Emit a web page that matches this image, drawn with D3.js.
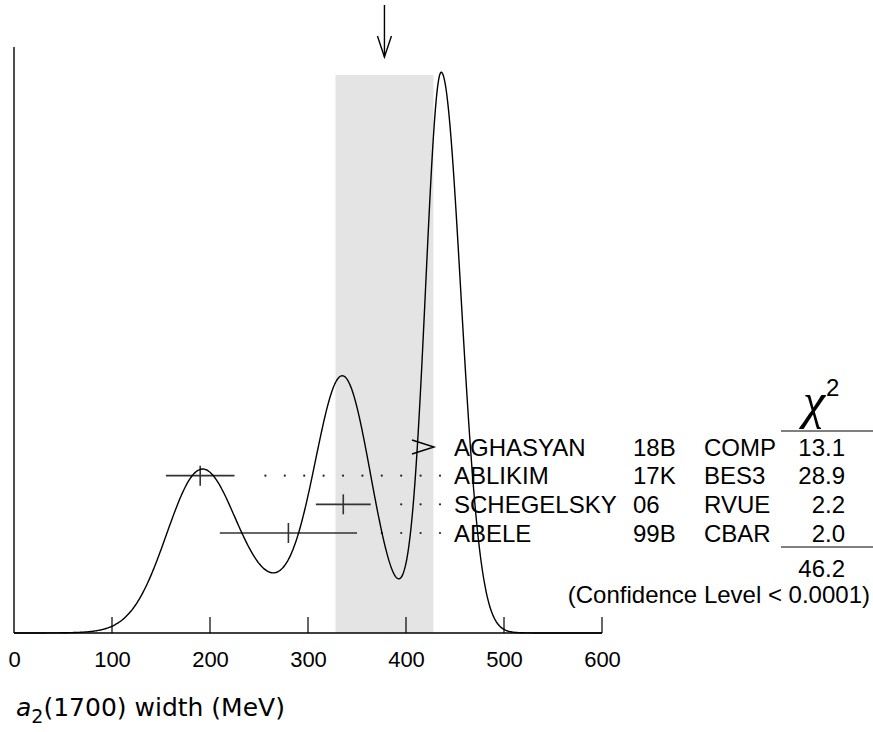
<!DOCTYPE html>
<html>
<head>
<meta charset="utf-8">
<script src="https://cdn.jsdelivr.net/npm/d3@7"></script>
<style>
  body { margin: 0; background: #fff; }
</style>
</head>
<body>
<div id="chart"></div>
<script>
// measurements (a2(1700) width, MeV)
const authors = ["AGHASYAN", "ABLIKIM", "SCHEGELSKY", "ABELE"];
const years = ["18B", "17K", "06", "99B"];
const techs = ["COMP", "BES3", "RVUE", "CBAR"];
const values = [436, 190, 336, 280];
const errMinus = [16, 35, 28, 70];
const errPlus = [20, 35, 28, 70];
const chi2 = ["13.1", "28.9", "2.2", "2.0"];
const chi2Total = "46.2";
const confText = "(Confidence Level < 0.0001)";
const average = 378;
const averageErr = 50;
const xTicks = [0, 100, 200, 300, 400, 500, 600];

const width = 873, height = 732;
const x0 = 14, x1 = 602, yBase = 633, yTop = 72;
const textX = 454, yearX = 633, techX = 704, chiX = 845;

const svg = d3.select("#chart").append("svg")
  .attr("width", width).attr("height", height)
  .style("font-family", "'Liberation Sans', Arial, sans-serif");

const x = d3.scaleLinear().domain([0, 600]).range([x0, x1]);

// ideogram: sum of gaussians, area ~ 1/sigma
const grid = d3.range(0, 600.5, 1);
const ideo = grid.map(v => {
  let s = 0;
  values.forEach((m, i) => {
    const sig = v < m ? errMinus[i] : errPlus[i];
    const sAvg = (errMinus[i] + errPlus[i]) / 2;
    s += Math.exp(-((v - m) ** 2) / (2 * sig * sig)) / (sAvg * sAvg);
  });
  return [v, s];
});
const y = d3.scaleLinear().domain([0, d3.max(ideo, d => d[1])]).range([yBase, yTop]);

// shaded band for the average
svg.append("rect")
  .attr("x", x(average - averageErr)).attr("y", 75)
  .attr("width", x(average + averageErr) - x(average - averageErr))
  .attr("height", yBase - 75)
  .attr("fill", "#e4e4e4");

// arrow at the average
svg.append("line")
  .attr("x1", x(average)).attr("x2", x(average))
  .attr("y1", 5).attr("y2", 57)
  .attr("stroke", "#000").attr("stroke-width", 1.4);
svg.append("path")
  .attr("d", `M${x(average) - 7},36 L${x(average)},57 L${x(average) + 7},36`)
  .attr("fill", "none").attr("stroke", "#000").attr("stroke-width", 1.4);

// axes
const axis = d3.axisBottom(x).tickValues(xTicks).tickSize(0).tickPadding(0);
const gx = svg.append("g").attr("transform", `translate(0,${yBase})`).call(axis);
gx.select(".domain").remove();
gx.selectAll("text").attr("y", 34).attr("dy", null)
  .style("font-family", "'Liberation Sans', Arial, sans-serif")
  .style("font-size", "22px").attr("fill", "#000");
svg.append("line").attr("x1", x0).attr("x2", x1).attr("y1", yBase).attr("y2", yBase)
  .attr("stroke", "#000").attr("stroke-width", 1.4);
svg.append("line").attr("x1", x0).attr("x2", x0).attr("y1", 47).attr("y2", yBase)
  .attr("stroke", "#000").attr("stroke-width", 1.4);
svg.selectAll(".tk").data(xTicks.slice(1)).enter().append("line")
  .attr("x1", d => x(d)).attr("x2", d => x(d))
  .attr("y1", yBase - 16).attr("y2", yBase)
  .attr("stroke", "#000").attr("stroke-width", 1.2);

// x label
const lab = svg.append("text").attr("x", 16).attr("y", 716)
  .style("font-family", "'DejaVu Sans', sans-serif").style("font-size", "25px");
lab.append("tspan").attr("font-style", "italic").text("a");
lab.append("tspan").attr("dy", 7).attr("font-size", "19px").text("2");
lab.append("tspan").attr("dy", -7).text("(1700) width (MeV)");

// rows
const row = d3.scalePoint().domain(authors).range([447, 533]);

// dotted leaders, error bars, off-scale marks
authors.forEach((a, i) => {
  const yy = row(a);
  const lo = x(values[i] - errMinus[i]), hi = x(values[i] + errPlus[i]);
  if (hi > textX - 20) {
    svg.append("path")
      .attr("d", `M${textX - 42},${yy - 7} L${textX - 20},${yy} L${textX - 42},${yy + 7}`)
      .attr("fill", "none").attr("stroke", "#000").attr("stroke-width", 1.4);
    return;
  }
  const dots = [];
  for (let k = 0; ; k++) {
    const dx = 440 - k * 19.4;
    if (dx < hi + 22) break;
    dots.push(dx);
  }
  svg.selectAll(null).data(dots).enter().append("circle")
    .attr("cx", d => d).attr("cy", yy).attr("r", 1.1).attr("fill", "#222");
  svg.append("line").attr("x1", lo).attr("x2", hi).attr("y1", yy).attr("y2", yy)
    .attr("stroke", "#333").attr("stroke-width", 1.6);
  svg.append("line").attr("x1", x(values[i])).attr("x2", x(values[i]))
    .attr("y1", yy - 10).attr("y2", yy + 10)
    .attr("stroke", "#333").attr("stroke-width", 1.6);
});

// ideogram curve
svg.append("path").datum(ideo)
  .attr("d", d3.line().x(d => x(d[0])).y(d => y(d[1])).curve(d3.curveBasis))
  .attr("fill", "none").attr("stroke", "#000").attr("stroke-width", 1.4);

// legend text
const fs = "24px";
authors.forEach((a, i) => {
  const yy = row(a) + 8.5;
  svg.append("text").attr("x", textX).attr("y", yy).style("font-size", fs).text(a);
  svg.append("text").attr("x", yearX).attr("y", yy).style("font-size", fs).text(years[i]);
  svg.append("text").attr("x", techX).attr("y", yy).style("font-size", fs).text(techs[i]);
  svg.append("text").attr("x", chiX).attr("y", yy).attr("text-anchor", "end")
    .style("font-size", fs).text(chi2[i]);
});

// chi^2 header and totals
const chiHead = svg.append("text").attr("x", 803).attr("y", 418);
chiHead.append("tspan").style("font-family", "'Liberation Serif', serif")
  .style("font-style", "italic").style("font-size", "50px").text("χ");
chiHead.append("tspan").attr("dy", -22).attr("dx", 1).style("font-size", "24px").text("2");
svg.append("line").attr("x1", 781).attr("x2", 873).attr("y1", 431).attr("y2", 431)
  .attr("stroke", "#000").attr("stroke-width", 1.2);
svg.append("line").attr("x1", 781).attr("x2", 873).attr("y1", 547).attr("y2", 547)
  .attr("stroke", "#000").attr("stroke-width", 1.2);
svg.append("text").attr("x", chiX).attr("y", 577).attr("text-anchor", "end")
  .style("font-size", fs).text(chi2Total);
svg.append("text").attr("x", 870).attr("y", 603).attr("text-anchor", "end")
  .style("font-size", fs).text(confText);
</script>
</body>
</html>
